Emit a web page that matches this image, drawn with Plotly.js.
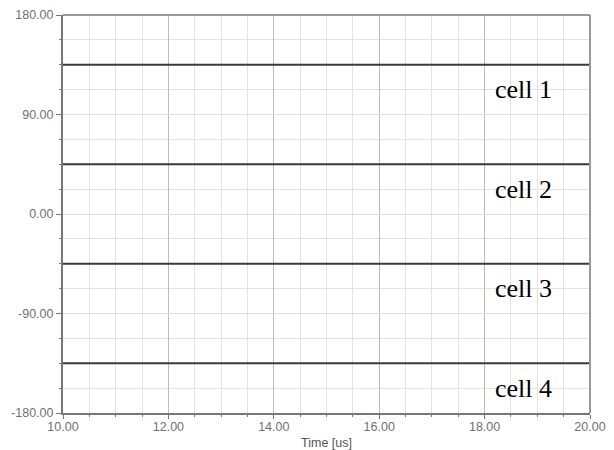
<!DOCTYPE html>
<html>
<head>
<meta charset="utf-8">
<script src="https://cdn.plot.ly/plotly-3.0.1.min.js"></script>
<style>html,body{margin:0;padding:0;background:#fff;}#chart{width:614px;height:450px;}</style>
</head>
<body>
<div id="chart"></div>
<script>
const timeRange = [10, 20];
const xTickVals = [10, 12, 14, 16, 18, 20];
const xTickText = ["10.00", "12.00", "14.00", "16.00", "18.00", "20.00"];
const yTickVals = [-180, -90, 0, 90, 180];
const yTickText = ["-180.00", "-90.00", "0.00", "90.00", "180.00"];
const cellNames = ["cell 1", "cell 2", "cell 3", "cell 4"];
const cellPhases = [135, 45, -45, -135];
const labelX = [18.15, 18.15, 18.15, 18.15];
const labelY = [112.5, 22.5, -67.5, -157.5];

const traces = cellPhases.map((v, i) => ({
  x: timeRange,
  y: [v, v],
  mode: 'lines',
  name: cellNames[i],
  line: {color: '#3a3a3a', width: 2},
  hoverinfo: 'none'
}));

const annotations = cellNames.map((n, i) => ({
  x: labelX[i], y: labelY[i], xref: 'x', yref: 'y',
  text: n, showarrow: false, xanchor: 'left', yanchor: 'middle',
  font: {family: 'Liberation Serif, Times New Roman, serif', size: 26, color: '#000'}
}));

const layout = {
  width: 614, height: 450,
  margin: {l: 63, r: 24, t: 15, b: 37},
  paper_bgcolor: '#fff', plot_bgcolor: '#fff',
  showlegend: false,
  font: {family: 'Liberation Sans, Arial, sans-serif', size: 12, color: '#6a6a6a'},
  xaxis: {
    range: timeRange, tickmode: 'array', tickvals: xTickVals, ticktext: xTickText,
    showgrid: true, gridcolor: '#bcbcbc', gridwidth: 1,
    ticks: 'outside', ticklen: 4, tickcolor: '#777', ticklabelstandoff: -3,
    showline: true, linecolor: '#777', linewidth: 2, zeroline: false,
    tickfont: {size: 12.5, color: '#707070'},
    minor: {dtick: 0.5, tick0: 10, showgrid: true, gridcolor: '#e2e2e2', gridwidth: 1, ticks: 'outside', ticklen: 2, tickcolor: '#777'},
    title: {text: 'Time [us]', font: {size: 12.5, color: '#555'}, standoff: 6}
  },
  yaxis: {
    range: [-180, 180], tickmode: 'array', tickvals: yTickVals, ticktext: yTickText,
    showgrid: true, gridcolor: '#dedede', gridwidth: 1,
    ticks: 'outside', ticklen: 5, tickcolor: '#777',
    showline: true, linecolor: '#777', linewidth: 2, zeroline: false,
    tickfont: {size: 12.5, color: '#707070'},
    minor: {dtick: 22.5, tick0: -180, showgrid: true, gridcolor: '#e2e2e2', gridwidth: 1, ticks: 'outside', ticklen: 2, tickcolor: '#777'}
  },
  shapes: [
    {type: 'line', xref: 'paper', yref: 'paper', x0: 0, x1: 1, y0: 1, y1: 1, line: {color: '#999', width: 2}},
    {type: 'line', xref: 'paper', yref: 'paper', x0: 1, x1: 1, y0: 0, y1: 1, line: {color: '#999', width: 2}}
  ],
  annotations: annotations
};

Plotly.newPlot('chart', traces, layout, {staticPlot: true, displayModeBar: false});
</script>
</body>
</html>
